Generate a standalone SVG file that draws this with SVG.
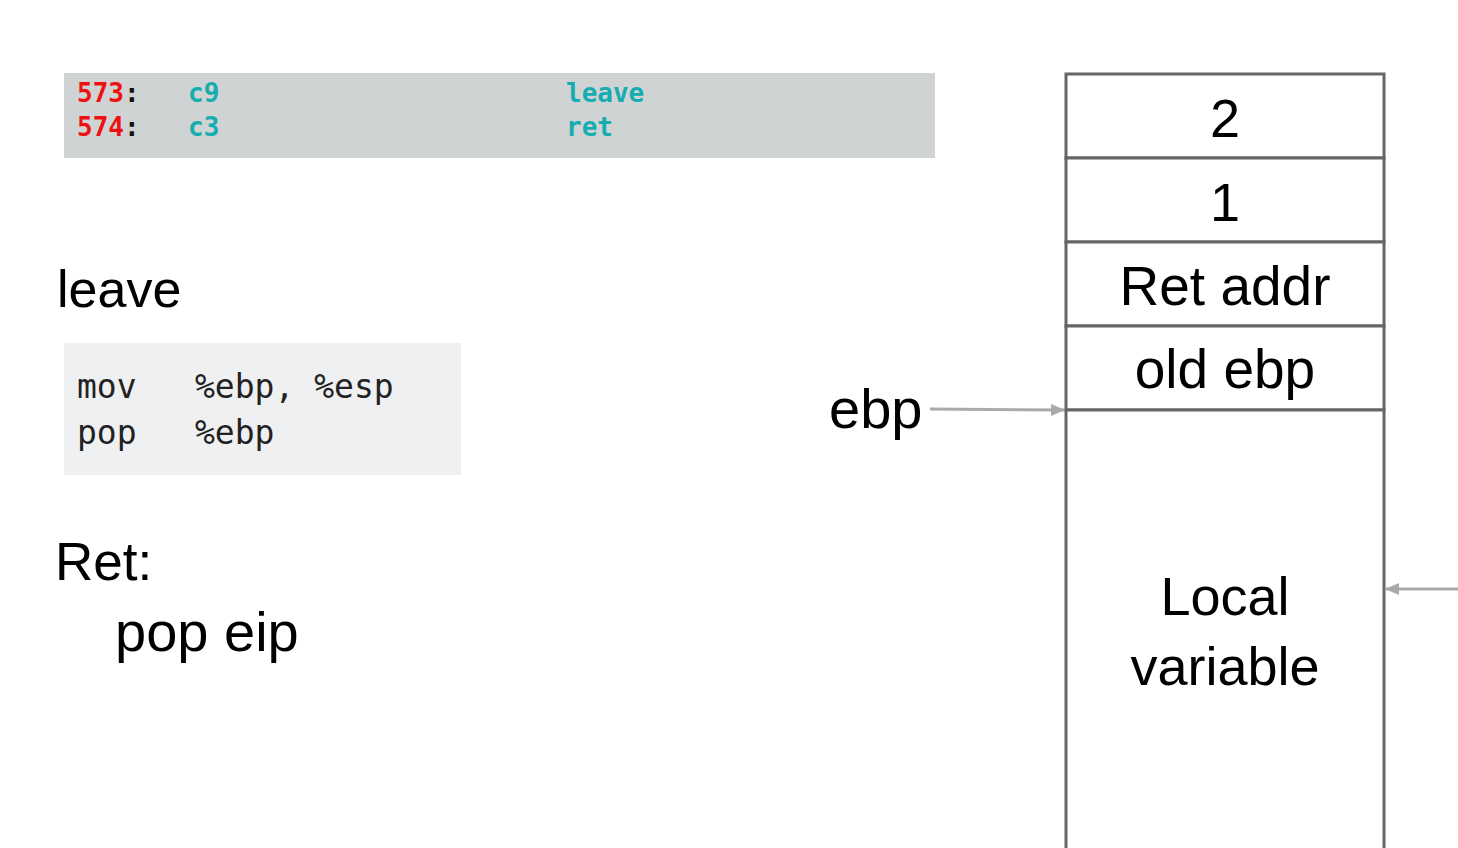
<svg xmlns="http://www.w3.org/2000/svg" width="1458" height="848" viewBox="0 0 1458 848">
<style>
.sans{font-family:"Liberation Sans",Arial,sans-serif;fill:#000}
.mono{font-family:"DejaVu Sans Mono","Liberation Mono",monospace}
.hdr{font-size:26px;font-weight:bold}
.red{fill:#ee1111}
.teal{fill:#14adb0}
.blk{fill:#111}
.code{font-size:33px;fill:#222}
.cell{fill:#fff;stroke:#666;stroke-width:3}
.conn{stroke:#aaa;stroke-width:3;fill:none}
</style>
<defs>
<marker id="ah" markerWidth="14" markerHeight="12" refX="13" refY="6" orient="auto" markerUnits="userSpaceOnUse" viewBox="0 0 14 12">
<path d="M0,0 L14,6 L0,12 z" fill="#aaa"/>
</marker>
</defs>
<rect width="1458" height="848" fill="#fff"/>
<g id="disasm">
<rect x="64" y="73" width="871" height="85" fill="#d0d3d4"/>
<text class="mono hdr" x="77" y="102"><tspan class="red">573</tspan><tspan class="blk">:</tspan></text>
<text class="mono hdr teal" x="188" y="102">c9</text>
<text class="mono hdr teal" x="566" y="102">leave</text>
<text class="mono hdr" x="77" y="136"><tspan class="red">574</tspan><tspan class="blk">:</tspan></text>
<text class="mono hdr teal" x="188" y="136">c3</text>
<text class="mono hdr teal" x="566" y="136">ret</text>
</g>
<g id="leave-label">
<text class="sans" x="57" y="307" font-size="52">leave</text>
</g>
<g id="leave-code">
<rect x="64" y="343" width="397" height="132" fill="#eff0f2"/>
<text class="mono code" x="77" y="398">mov</text>
<text class="mono code" x="195" y="398">%ebp, %esp</text>
<text class="mono code" x="77" y="444">pop</text>
<text class="mono code" x="195" y="444">%ebp</text>
</g>
<g id="ret-label">
<text class="sans" x="55" y="580" font-size="53">Ret:</text>
<text class="sans" x="115" y="651" font-size="56">pop eip</text>
</g>
<g id="ebp-label">
<text class="sans" x="829" y="428" font-size="56">ebp</text>
</g>
<g id="stack">
<rect class="cell" x="1066" y="74" width="318" height="84"/>
<rect class="cell" x="1066" y="158" width="318" height="84"/>
<rect class="cell" x="1066" y="242" width="318" height="84"/>
<rect class="cell" x="1066" y="326" width="318" height="84"/>
<rect class="cell" x="1066" y="410" width="318" height="450"/>
<text class="sans" x="1225" y="137" font-size="54" text-anchor="middle">2</text>
<text class="sans" x="1225" y="221" font-size="54" text-anchor="middle">1</text>
<text class="sans" x="1225" y="305" font-size="55" text-anchor="middle">Ret addr</text>
<text class="sans" x="1225" y="388" font-size="55" text-anchor="middle">old ebp</text>
<text class="sans" x="1225" y="615" font-size="54" text-anchor="middle">Local</text>
<text class="sans" x="1225" y="685" font-size="54" text-anchor="middle">variable</text>
</g>
<g id="connectors">
<line class="conn" x1="930" y1="409" x2="1064" y2="410" marker-end="url(#ah)"/>
<line class="conn" x1="1458" y1="589" x2="1386" y2="589" marker-end="url(#ah)"/>
</g>
</svg>
